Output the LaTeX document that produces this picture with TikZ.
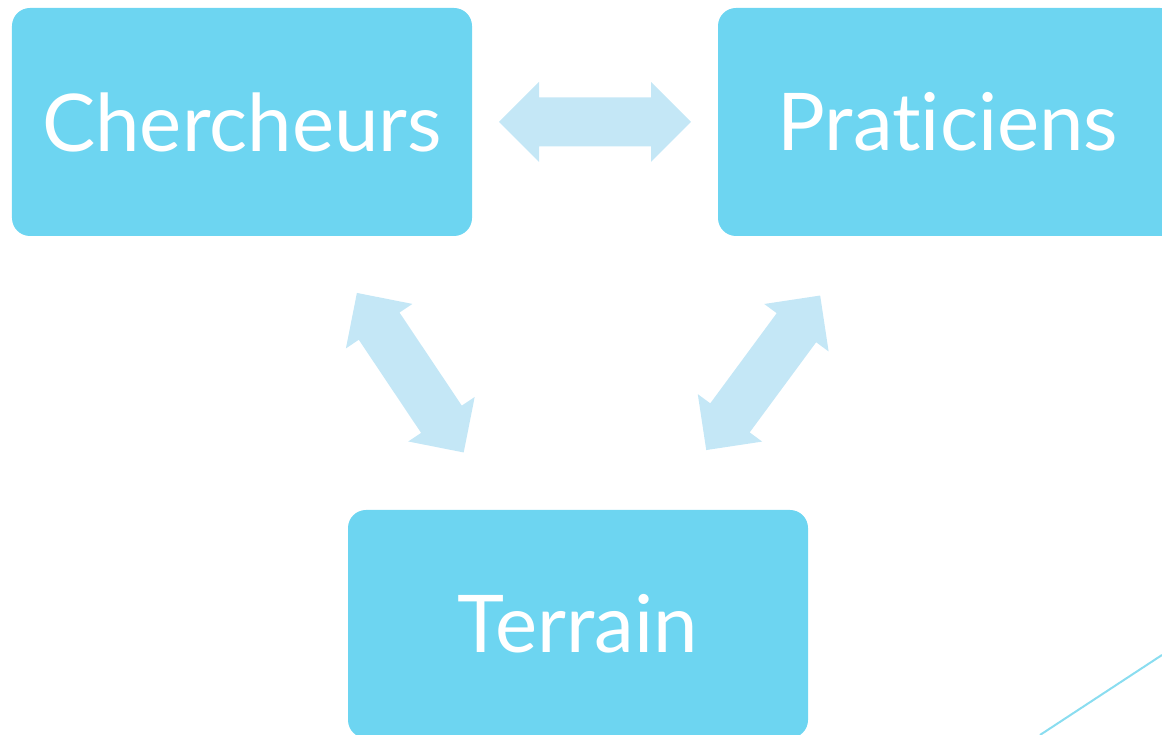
\documentclass[tikz,border=0pt]{standalone}
\usepackage{fontspec}
\setmainfont{Lato}[Ligatures={NoCommon,NoRequired},Contextuals=NoAlternate]
\usepackage{tikz}
\definecolor{BoxBlue}{HTML}{6DD5F1}
\definecolor{ArrowBlue}{HTML}{C4E7F6}
\definecolor{LineBlue}{HTML}{8ADDF0}

\begin{document}
\begin{tikzpicture}[
    x=1bp,y=1bp,
    block/.style={rectangle,rounded corners=18bp,fill=BoxBlue,minimum width=460bp,minimum height=228bp,align=center,text=white,font=\fontsize{80}{90}\selectfont},
    dblarrow/.pic={\fill[ArrowBlue] (-96,0) -- (-56,40) -- (-56,24.5) -- (56,24.5) -- (56,40) -- (96,0) -- (56,-40) -- (56,-24.5) -- (-56,-24.5) -- (-56,-40) -- cycle;}
]
\useasboundingbox (0,0) rectangle (1162,735);
\clip (0,0) rectangle (1162,735);
\node[block] (cherch) at (242,613) {Chercheurs};
\node[block] (prat) at (948,613) {Prat\kern0pt iciens};
\node[block] (terrain) at (578,111) {Terrain};
% fleches doubles
\pic (cp) at (595,613) {dblarrow};
\pic[rotate=-56.2] (ct) at (410.3,362.3) {dblarrow};
\pic[rotate=53.6] (pt) at (763.2,362.2) {dblarrow};
\draw[LineBlue,line width=2bp] (1040,0) -- (1162,80);
\end{tikzpicture}
\end{document}
